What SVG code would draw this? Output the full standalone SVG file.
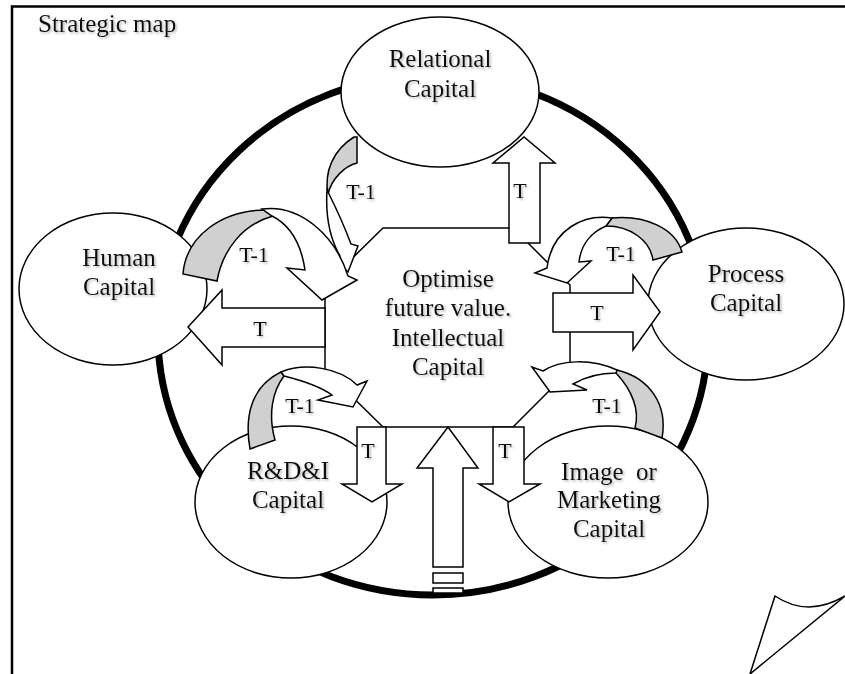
<svg xmlns="http://www.w3.org/2000/svg" width="845" height="674" viewBox="0 0 845 674">
  <defs>
    <filter id="soft" x="-10%" y="-20%" width="130%" height="150%">
      <feDropShadow dx="1.5" dy="1.5" stdDeviation="0.9" flood-color="#777" flood-opacity="0.55"/>
    </filter>
    <style>
      .txt { font-family: "Liberation Serif", "Times New Roman", serif; font-size: 25px; fill: #111; text-anchor: middle; filter: url(#soft); }
      .lbl { font-family: "Liberation Serif", "Times New Roman", serif; font-size: 22px; fill: #111; text-anchor: middle; filter: url(#soft); }
      .node { fill: #fff; stroke: #000; stroke-width: 1.5; }
      .blk { fill: #fff; stroke: #000; stroke-width: 1.5; stroke-linejoin: miter; }
      .back { fill: #d0d0d0; stroke: #000; stroke-width: 1.5; stroke-linejoin: miter; }
    </style>
  </defs>

  <rect width="845" height="674" fill="#fff"/>

  <!-- page frame, running off the right and bottom edges -->
  <rect x="12" y="6.5" width="860" height="700" fill="none" stroke="#000" stroke-width="2.5"/>
  <text x="38" y="32" class="txt" style="text-anchor:start">Strategic map</text>

  <!-- heavy cycle ring behind the capitals -->
  <g id="cycle">
    <ellipse cx="433" cy="335" rx="275" ry="260" fill="none" stroke="#000" stroke-width="7"/>
  </g>

  <g id="relational">
    <ellipse class="node" cx="440" cy="92" rx="99" ry="75"/>
    <text class="txt" x="440" y="67">Relational</text>
    <text class="txt" x="440" y="97">Capital</text>
  </g>

  <g id="human">
    <ellipse class="node" cx="113" cy="289" rx="94" ry="76"/>
    <text class="txt" x="119" y="266">Human</text>
    <text class="txt" x="119" y="295">Capital</text>
  </g>

  <g id="process">
    <ellipse class="node" cx="746" cy="304" rx="98" ry="76"/>
    <text class="txt" x="746" y="282">Process</text>
    <text class="txt" x="746" y="311">Capital</text>
  </g>

  <g id="rdi">
    <ellipse class="node" cx="291" cy="502" rx="96" ry="76"/>
    <text class="txt" x="288" y="479">R&amp;D&amp;I</text>
    <text class="txt" x="288" y="508">Capital</text>
  </g>

  <g id="image">
    <ellipse class="node" cx="608" cy="502" rx="100" ry="76"/>
    <text class="txt" x="609" y="480">Image&#160; or</text>
    <text class="txt" x="609" y="508">Marketing</text>
    <text class="txt" x="609" y="537">Capital</text>
  </g>

  <g id="core">
    <polygon class="node" points="383,228 513,228 570,285 570,370 513,427 383,427 325,370 325,285"/>
    <text class="txt" x="448" y="287">Optimise</text>
    <text class="txt" x="448" y="316">future value.</text>
    <text class="txt" x="448" y="346">Intellectual</text>
    <text class="txt" x="448" y="375">Capital</text>
  </g>

  <g id="connectors">
    <!-- period T flows: block arrows out of the core -->
    <polygon class="blk" points="509,243 509,163 493,163 524,137 555,163 540,163 540,243"/>
    <polygon class="blk" points="553,293 633,293 633,275 660,312 633,350 633,332 553,332"/>
    <polygon class="blk" points="325,308 222,308 222,290 188,327 222,365 222,347 325,347"/>
    <polygon class="blk" points="357,427 357,484 342,484 372,502 402,484 386,484 386,427"/>
    <polygon class="blk" points="493,427 493,484 479,484 509,502 540,484 524,484 524,427"/>

    <!-- input into the core from below -->
    <polygon class="blk" points="433,567 433,468 417,468 448,427 478,468 463,468 463,567"/>
    <rect class="blk" x="433" y="573" width="30" height="10"/>
    <rect class="blk" x="433" y="588" width="30" height="5"/>

    <!-- period T-1 feedback: curved ribbons back into the core -->
    <path class="back" d="M357,137 L357,163 C345,166 332,178 328,194 C324,172 333,150 354,137 Z"/>
    <path class="blk" d="M327,190 C325,222 332,242 340,256 L335,259 L348,272 L358,246 L351,244 C345,228 338,212 329,194 Z"/>

    <path class="back" d="M183,274 C186,236 222,210 266,210 L273,216 C244,224 223,248 217,281 Z"/>
    <path class="blk" d="M262,209 C300,204 335,235 348,276 L357,280 L322,300 L287,268 L305,270 C301,243 290,225 272,216 Z"/>

    <path class="back" d="M682,252 C675,228 645,215 612,218 L606,226 C630,226 650,240 653,260 Z"/>
    <path class="blk" d="M612,218 C585,214 552,228 547,268 L535,273 L567,283 L591,261 L579,262 C581,244 592,232 606,226 Z"/>

    <path class="back" d="M250,449 C244,415 252,386 281,372 L284,376 C272,392 268,415 275,440 Z"/>
    <path class="blk" d="M281,372 C305,362 340,368 357,385 L367,381 L353,407 L318,400 L332,395 C318,385 300,380 284,376 Z"/>

    <path class="back" d="M662,438 C668,405 650,378 617,370 L616,373 C632,390 640,410 635,428 Z"/>
    <path class="blk" d="M617,370 C590,358 560,360 543,371 L532,367 L550,392 L587,390 L573,384 C585,377 600,373 616,373 Z"/>

    <text class="lbl" x="520" y="198">T</text>
    <text class="lbl" x="597" y="320">T</text>
    <text class="lbl" x="260" y="336">T</text>
    <text class="lbl" x="368" y="458">T</text>
    <text class="lbl" x="505" y="458">T</text>

    <text class="lbl" x="361" y="199">T-1</text>
    <text class="lbl" x="254" y="262">T-1</text>
    <text class="lbl" x="621" y="261">T-1</text>
    <text class="lbl" x="300" y="413">T-1</text>
    <text class="lbl" x="607" y="413">T-1</text>
  </g>

  <!-- turned-up page corner -->
  <g id="page-curl">
    <path d="M750,674 L775,596 Q808,618 845,596 L750,674" fill="none" stroke="#000" stroke-width="1.5"/>
  </g>
</svg>
